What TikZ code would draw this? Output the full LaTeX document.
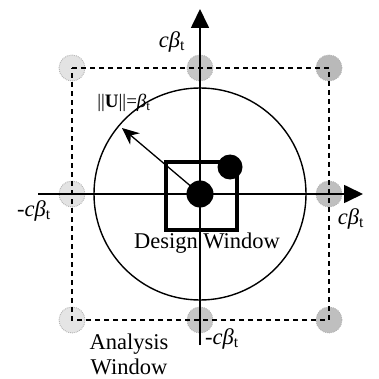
\documentclass[tikz,border=0pt]{standalone}
\usepackage{fontspec}
\setmainfont{Liberation Serif}
\usetikzlibrary{arrows.meta}
\newcommand{\cb}{\textit{cβ}\textsubscript{t}}
\begin{document}
\begin{tikzpicture}[x=1pt,y=-1pt,
  samp/.style={circle,minimum size=26pt,inner sep=0pt,draw=gray!60,densely dotted,line width=0.9pt},
  dot/.style={circle,fill=black,inner sep=0pt},
  axis/.style={line width=1.7pt,-{Triangle[length=19pt,width=18pt]}},
  lbl/.style={font=\fontsize{22.5}{24}\selectfont,inner sep=0pt},
]
\useasboundingbox (0,0) rectangle (378,379);
% analysis-window sample points
\node[samp,fill=gray!22] (tl) at (72,68) {};
\node[samp,fill=gray!45] (tm) at (200,68) {};
\node[samp,fill=gray!55] (tr) at (329,68) {};
\node[samp,fill=gray!22] (ml) at (72,194) {};
\node[samp,fill=gray!50] (mr) at (329,194) {};
\node[samp,fill=gray!20] (bl) at (72,320) {};
\node[samp,fill=gray!45] (bm) at (200,320) {};
\node[samp,fill=gray!50] (br) at (329,320) {};
% analysis window
\draw[line width=1.5pt,dash pattern=on 5pt off 4pt] (tl.center) -- (tr.center) -- (br.center) -- (bl.center) -- cycle;
% limit-state circle
\coordinate (O) at (200,194);
\draw[line width=1.4pt] (O) circle[radius=106];
% axes
\coordinate (xl) at (38,194);
\coordinate (xr) at (363,194);
\coordinate (yb) at (200,345);
\coordinate (yt) at (200,9);
\draw[axis] (xl) -- (xr);
\draw[axis] (yb) -- (yt);
% design window
\draw[line width=3.2pt] (166,162) rectangle (237,230);
% design points
\node[dot,minimum size=27pt] (d0) at (200,194) {};
\node[dot,minimum size=25pt] (d1) at (230,167) {};
% U vector
\coordinate (u) at (122,128);
\draw[line width=1.3pt,-{Stealth[length=17pt,width=15pt]}] (d0.center) -- (u);
% labels
\node[lbl] (ct) at (172,42) {\cb};
\node[lbl] (cl) at (34,211) {-\cb};
\node[lbl] (cr) at (351,219) {\cb};
\node[lbl] (cbm) at (222,339) {-\cb};
\node[lbl,font=\fontsize{19}{21}\selectfont] (un) at (124,103) {||\textbf{U}||=\textit{β}\textsubscript{t}};
\node[lbl] (dw) at (207,243) {Design Window};
\node[lbl,align=center,font=\fontsize{22.5}{25}\selectfont] (aw) at (129,354) {Analysis\\Window};
\end{tikzpicture}
\end{document}
